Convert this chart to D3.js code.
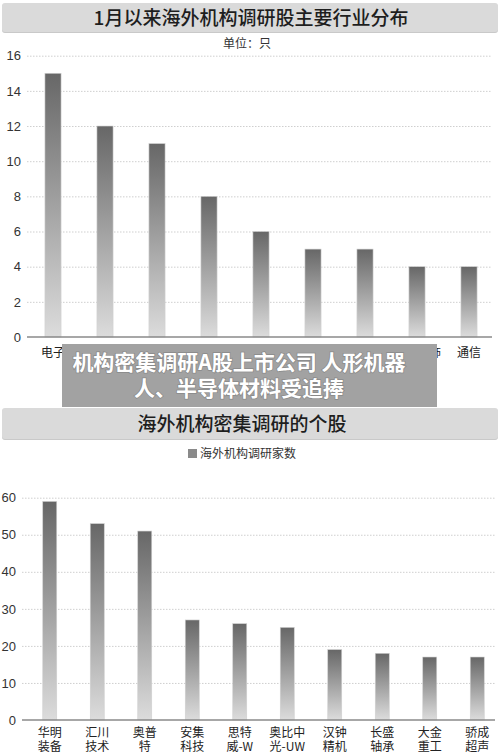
<!DOCTYPE html>
<head>
    <meta charset="utf-8">
    <style>
      body {
          margin: 0;
          background: #fff;
      }
      svg text {
          font-family: 'Noto Sans CJK SC', sans-serif;
      }
      .num text {
          font-family: 'Liberation Sans', Arial, sans-serif;
          font-size: 13px;
          fill: #333;
      }
      .grid line {
          stroke: #cfcfcf;
          stroke-dasharray: 1.5 1.5;
      }
      .bar {
          stroke: #d0d0d0;
          stroke-width: 0.6px;
      }
  </style>
</head>
<body>
<svg id="chart" width="500" height="752"></svg>
</body>
<script src="https://cdn.jsdelivr.net/npm/d3@7"></script>
<script>
  // top chart: industries
  var industryNames = ["电子", "电力设备", "机械设备", "计算机", "医药生物", "基础化工", "汽车", "纺织服饰", "通信"];
  var industryCounts = [15, 12, 11, 8, 6, 5, 5, 4, 4];
  var industryTicks = [0, 2, 4, 6, 8, 10, 12, 14, 16];

  // bottom chart: stocks
  var stockLabels = ["华明\n装备", "汇川\n技术", "奥普\n特", "安集\n科技", "思特\n威-W", "奥比中\n光-UW", "汉钟\n精机", "长盛\n轴承", "大金\n重工", "骄成\n超声"];
  var stockCounts = [59, 53, 51, 27, 26, 25, 19, 18, 17, 17];
  var stockTicks = [0, 10, 20, 30, 40, 50, 60];

  var svg = d3.select("#chart");

  // bar gradient
  var grad = svg.append("defs").append("linearGradient")
      .attr("id", "barGrad")
      .attr("x1", 0).attr("y1", 0).attr("x2", 0).attr("y2", 1);
  grad.append("stop").attr("offset", "0%").attr("stop-color", "#676767");
  grad.append("stop").attr("offset", "100%").attr("stop-color", "#dcdcdc");

  function titleBand(y, h, cx, text) {
    svg.append("rect").attr("x", 2).attr("y", y + 1).attr("width", 496).attr("height", h)
        .attr("rx", 3).attr("fill", "#c9c9c9");
    svg.append("rect").attr("x", 2).attr("y", y).attr("width", 496).attr("height", h)
        .attr("rx", 3).attr("fill", "#dadada");
    svg.append("text")
        .attr("x", cx).attr("y", y + h / 2 + 7)
        .attr("text-anchor", "middle")
        .attr("font-size", 19)
        .attr("font-weight", 500)
        .attr("fill", "#1e1e1e")
        .text(text);
  }

  function barChart(opts) {
    var x = d3.scaleBand()
        .domain(d3.range(opts.values.length))
        .range(opts.xRange)
        .paddingInner(opts.pad)
        .paddingOuter(opts.pad / 2);

    var y = d3.scaleLinear()
        .domain([0, d3.max(opts.ticks)])
        .range(opts.yRange);

    // grid + tick labels
    var g = svg.append("g")
        .attr("class", "grid num")
        .attr("transform", "translate(" + opts.axisX + ",0)")
        .call(d3.axisLeft(y)
          .tickValues(opts.ticks)
          .tickSize(-(opts.gridEnd - opts.axisX))
          .tickPadding(6));
    g.select(".domain").remove();
    g.selectAll(".tick").filter(function(d) { return d === 0; }).select("line").remove();

    svg.append("g").selectAll("rect")
        .data(opts.values)
      .join("rect")
        .attr("class", "bar")
        .attr("x", function(d, i) { return x(i); })
        .attr("y", function(d) { return y(d); })
        .attr("width", x.bandwidth())
        .attr("height", function(d) { return y(0) - y(d); })
        .attr("fill", "url(#barGrad)");

    // baseline
    svg.append("line")
        .attr("x1", opts.axisX).attr("x2", opts.gridEnd)
        .attr("y1", y(0)).attr("y2", y(0))
        .attr("stroke", "#8a8a8a").attr("stroke-width", 1.5);

    // category labels
    var labels = svg.append("g").selectAll("text")
        .data(opts.labels)
      .join("text")
        .attr("x", function(d, i) { return x(i) + x.bandwidth() / 2; })
        .attr("y", y(0) + opts.labelDy)
        .attr("text-anchor", "middle")
        .attr("font-size", 12)
        .attr("fill", "#222");
    labels.each(function(d, i) {
      var t = d3.select(this);
      d.split("\n").forEach(function(part, k) {
        t.append("tspan")
          .attr("x", x(i) + x.bandwidth() / 2)
          .attr("dy", k === 0 ? 0 : 14)
          .text(part);
      });
    });
  }

  // top section
  titleBand(3, 29, 251, "1月以来海外机构调研股主要行业分布");
  svg.append("text")
      .attr("x", 247).attr("y", 48)
      .attr("text-anchor", "middle")
      .attr("font-size", 12)
      .attr("fill", "#333")
      .text("单位：只");

  barChart({
    values: industryCounts,
    labels: industryNames,
    ticks: industryTicks,
    xRange: [27, 495],
    pad: 0.69,
    yRange: [337, 55.7],
    axisX: 27,
    gridEnd: 492,
    labelDy: 20
  });

  // bottom section
  titleBand(408, 31, 242, "海外机构密集调研的个股");
  svg.append("rect")
      .attr("x", 188).attr("y", 449).attr("width", 9).attr("height", 9)
      .attr("fill", "#8a8a8a");
  svg.append("text")
      .attr("x", 200).attr("y", 458)
      .attr("font-size", 12)
      .attr("fill", "#333")
      .text("海外机构调研家数");

  barChart({
    values: stockCounts,
    labels: stockLabels,
    ticks: stockTicks,
    xRange: [26, 501],
    pad: 0.705,
    yRange: [720, 497.7],
    axisX: 22,
    gridEnd: 495,
    labelDy: 17
  });

  // headline overlay
  svg.append("rect")
      .attr("x", 62).attr("y", 344).attr("width", 375).attr("height", 63)
      .attr("fill", "#a2a2a2");
  var head = svg.append("text")
      .attr("text-anchor", "middle")
      .attr("font-size", 21)
      .attr("font-weight", "bold")
      .attr("fill", "#fff")
      .style("paint-order", "stroke")
      .attr("stroke", "#8a8a8a")
      .attr("stroke-width", 1.5);
  head.append("tspan").attr("x", 239).attr("y", 370).text("机构密集调研A股上市公司 人形机器");
  head.append("tspan").attr("x", 239).attr("y", 396).text("人、半导体材料受追捧");
</script>
